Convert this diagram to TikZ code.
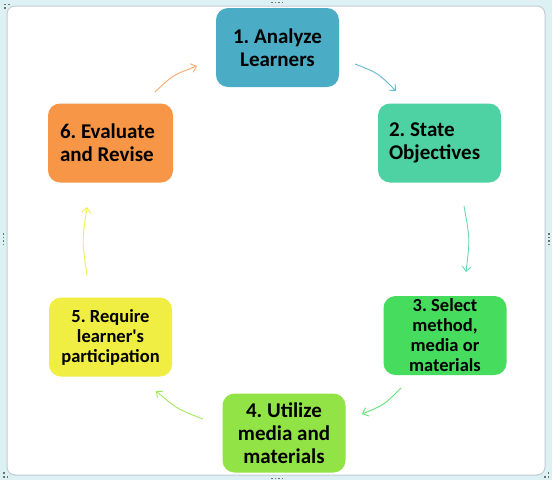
\documentclass[tikz,border=0pt]{standalone}
\usepackage{fontspec}
\setmainfont{Carlito}
\usetikzlibrary{arrows.meta}
\definecolor{cA}{HTML}{4BACC6}
\definecolor{cB}{HTML}{4ED2A4}
\definecolor{cC}{HTML}{46DC5E}
\definecolor{cD}{HTML}{92E446}
\definecolor{cE}{HTML}{F0EE42}
\definecolor{cF}{HTML}{F79646}
\definecolor{framebg}{HTML}{DDF1F5}
\definecolor{frameline}{HTML}{C4CCD4}
\definecolor{handle}{HTML}{707070}
\tikzset{
  stagebox/.style={rounded corners=12pt, minimum width=123pt, minimum height=79pt,
    inner sep=2pt, font=\bfseries\fontsize{21}{23}\selectfont\frenchspacing, align=center, text=black},
  leftbox/.style={align=flush left, text width=101pt, inner xsep=11pt},
  smalltext/.style={font=\bfseries\fontsize{18.5}{20}\selectfont\frenchspacing},
  cyc/.style={line width=0.9pt, -{Straight Barb[length=5pt,width=9pt]}},
  hdot/.style={fill=handle},
}
\begin{document}
\begin{tikzpicture}[x=1pt,y=-1pt]
\useasboundingbox (0,0) rectangle (552,480);
% frame
\fill[framebg] (0,0) rectangle (552,480);
\draw[frameline, fill=white, line width=1pt, rounded corners=8pt] (7,6) rectangle (545,475);
% handles
\foreach \x in {271,274.5,278,281.5} {\fill[hdot] (\x,1.5) rectangle ++(1.6,1.6); \fill[hdot] (\x,477.5) rectangle ++(1.6,1.6);}
\foreach \y in {233,236.5,240,243.5} {\fill[hdot] (2.5,\y) rectangle ++(1.6,1.6); \fill[hdot] (548,\y) rectangle ++(1.6,1.6);}
\fill[hdot] (4,3.5) rectangle ++(1.6,1.6); \fill[hdot] (8,3.5) rectangle ++(1.6,1.6); \fill[hdot] (4,7) rectangle ++(1.6,1.6);
\fill[hdot] (547.5,472) rectangle ++(1.6,1.6); \fill[hdot] (547.5,476) rectangle ++(1.6,1.6); \fill[hdot] (544,476) rectangle ++(1.6,1.6);
\fill[hdot] (3,472) rectangle ++(1.6,1.6); \fill[hdot] (3,476) rectangle ++(1.6,1.6); \fill[hdot] (6.5,476) rectangle ++(1.6,1.6);
% boxes
\node[stagebox, fill=cA] (b1) at (277.5,47.5) {1. Analyze\\Learners};
\node[stagebox, fill=cB, leftbox] (b2) at (439.5,143) {2. State\\Objectives};
\node[stagebox, fill=cC, smalltext] (b3) at (445,335.5) {3. Select\\method,\\media or\\materials};
\node[stagebox, fill=cD] (b4) at (284,433) {4. Utilize\\media and\\materials};
\node[stagebox, fill=cE, smalltext] (b5) at (110.5,337) {5. Require\\learner\textquotesingle s\\participation};
\node[stagebox, fill=cF, leftbox, inner xsep=12pt] (b6) at (110.5,143) {6. Evaluate\\and Revise};
% arrow end points
\coordinate (s61) at (155,92);  \coordinate (e61) at (197,66);
\coordinate (s12) at (355,64);  \coordinate (e12) at (396,91);
\coordinate (s23) at (464,206); \coordinate (e23) at (466,272);
\coordinate (s34) at (401,388); \coordinate (e34) at (362,414);
\coordinate (s45) at (203,419); \coordinate (e45) at (156,391);
\coordinate (s56) at (87,275);  \coordinate (e56) at (87,207);
\draw[cyc, cF!80!white] (s61) .. controls (173,75) .. (e61);
\draw[cyc, cA!85!white] (s12) .. controls (378,73) .. (e12);
\draw[cyc, cB!85!white] (s23) .. controls (470,239) .. (e23);
\draw[cyc, cC!85!white] (s34) .. controls (384,405) .. (e34);
\draw[cyc, cD!85!white] (s45) .. controls (177,409) .. (e45);
\draw[cyc, cE!90!white] (s56) .. controls (82,241) .. (e56);
\end{tikzpicture}
\end{document}
